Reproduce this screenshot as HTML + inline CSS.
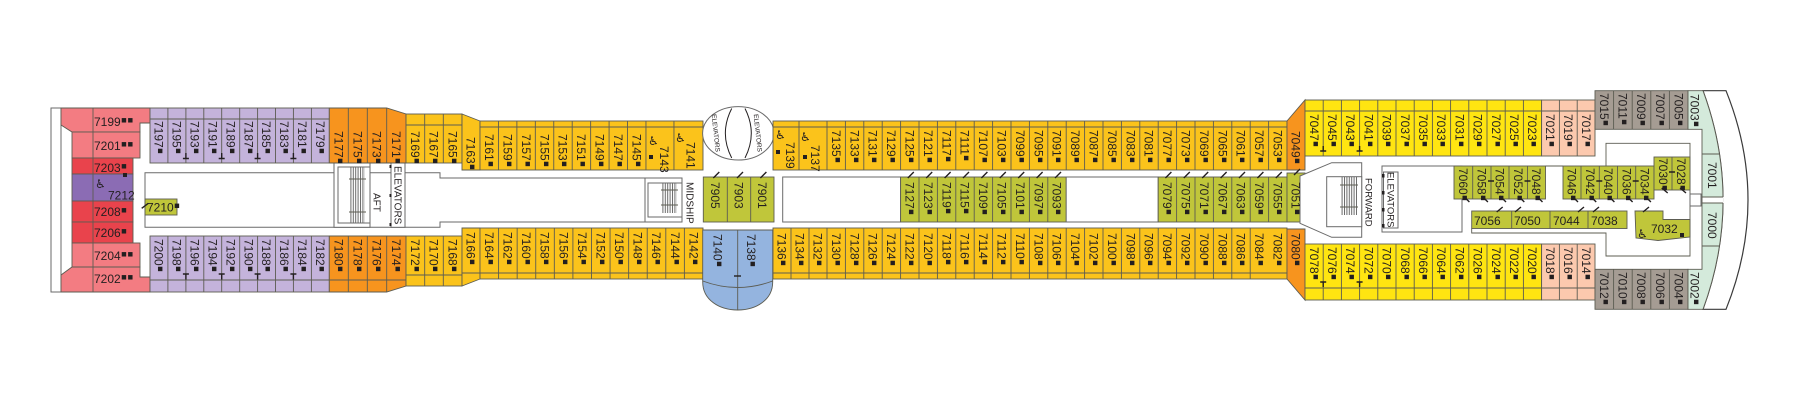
<!DOCTYPE html>
<html><head><meta charset="utf-8">
<style>
html,body{margin:0;padding:0;background:#fff;}
svg{display:block}
text{font-family:"Liberation Sans",sans-serif;font-size:12px;fill:#231f20}
.q{font-size:18px}
.s{font-size:10px}
.s2{font-size:9.5px}
.xs{font-size:6.5px}
.c{stroke:#5c5c52;stroke-width:0.9}
.l{fill:none;stroke:#5c5c52;stroke-width:0.9}
.k{fill:none;stroke:#231f20;stroke-width:1.4}
.o{fill:#fff;stroke:#6a6a6a;stroke-width:1}
.pk{fill:#F37C82}.rd{fill:#E9434C}.pu{fill:#8B6CB4}.lv{fill:#C4B3DB}.or{fill:#F7941E}.am{fill:#FBC31B}.ye{fill:#FFE511}.pe{fill:#FCC9AE}.gy{fill:#A59C93}.mi{fill:#D4EADB}.gr{fill:#C0C63A}.bl{fill:#94B4DF}
.w{font-family:"DejaVu Sans",sans-serif;font-size:12px}
</style></head><body>
<svg width="1800" height="400" viewBox="0 0 1800 400" xmlns="http://www.w3.org/2000/svg">
<defs><pattern id="st" width="2.4" height="10" patternUnits="userSpaceOnUse"><rect x="0" y="0" width="1" height="10" fill="#6a6a6a"/></pattern></defs>
<rect width="1800" height="400" fill="#fff"/>

<!-- AFT pink block -->
<rect class="o" x="51" y="108" width="10" height="184"/>
<polygon class="pk c" points="61,108 150,108 150,123 140,123 140,132 72,132 61,125"/>
<rect class="pk c" x="72" y="132" width="68" height="26"/>
<rect class="rd c" x="72" y="158" width="61" height="16"/>
<rect class="pu c" x="72" y="174" width="61" height="27"/>
<rect class="rd c" x="72" y="201" width="61" height="21"/>
<rect class="rd c" x="72" y="222" width="61" height="21"/>
<rect class="pk c" x="72" y="243" width="68" height="24"/>
<polygon class="pk c" points="72,267 140,267 140,277 150,277 150,292 61,292 61,275"/>
<path class="l" d="M93 108V292"/>
<text x="94" y="126">7199<tspan class="q">▪▪</tspan></text>
<text x="94" y="150">7201<tspan class="q">▪▪</tspan></text>
<text x="94" y="172">7203<tspan class="q">▪</tspan></text>
<text class="w" x="95" y="188">♿</text>
<text x="108" y="199.5">7212</text>
<rect x="123" y="173" width="4" height="4" fill="#231f20"/>
<text x="94" y="216">7208<tspan class="q">▪</tspan></text>
<text x="94" y="237">7206<tspan class="q">▪</tspan></text>
<text x="94" y="260">7204<tspan class="q">▪▪</tspan></text>
<text x="94" y="283">7202<tspan class="q">▪▪</tspan></text>

<!-- aft corridor -->
<path class="o" d="M145 172.7H440V178H647V222H440V227.3H145Z"/>
<rect class="o" x="334" y="163" width="36" height="64.3"/>
<rect class="o" x="338" y="167" width="32" height="56"/>
<rect x="350" y="167" width="15" height="56" fill="url(#st)"/>
<path class="l" d="M349 179H366M349 212H366"/>
<rect class="o" x="391" y="163" width="14" height="64.3"/>
<rect x="389.5" y="165" width="2" height="3" fill="#231f20"/><rect x="389.5" y="194" width="2" height="3" fill="#231f20"/><rect x="389.5" y="223" width="2" height="3" fill="#231f20"/>
<rect class="gr c" x="145" y="199" width="32" height="16"/>
<text x="147" y="211.5" font-size="11">7210<tspan class="q">▪</tspan></text>

<!-- midship stairs -->
<rect class="o" x="645" y="178" width="37" height="44"/>
<rect class="o" x="648" y="183" width="34" height="34"/>
<rect x="662" y="183" width="15" height="30" fill="url(#st)"/>
<path class="l" d="M661 190H678M661 205H678"/>

<!-- lavender rows -->
<rect class="lv c" x="150" y="108" width="179.3" height="55"/>
<path class="l" d="M167.9 108V163M185.9 108V163M203.8 108V163M221.7 108V163M239.7 108V163M257.6 108V163M275.5 108V163M293.4 108V163M311.4 108V163M150 119H329.3"/>
<rect class="lv c" x="150" y="236" width="179.3" height="56"/>
<path class="l" d="M167.9 236V292M185.9 236V292M203.8 236V292M221.7 236V292M239.7 236V292M257.6 236V292M275.5 236V292M293.4 236V292M311.4 236V292M150 280H329.3"/>

<!-- orange aft -->
<polygon class="or c" points="329.3,108 386.7,108 406,114 406,163 329.3,163"/>
<path class="l" d="M348.3 108V163M367.3 108V163M386.7 108V163"/>
<polygon class="or c" points="329.3,236 406,236 406,286 386.7,292 329.3,292"/>
<path class="l" d="M348.3 236V292M367.3 236V292M386.7 236V292M329.3 280H406"/>

<!-- section 2 amber -->
<rect class="am c" x="406" y="114" width="56" height="49"/>
<path class="l" d="M424.7 114V163M443.3 114V163M406 125H462"/>
<polygon class="am c" points="462,114 480,121 480,170 462,170"/>
<rect class="am c" x="406" y="236" width="56" height="50"/>
<path class="l" d="M424.7 236V286M443.3 236V286M406 275H462"/>
<polygon class="am c" points="462,228 480,228 480,279 462,286"/>

<!-- main aft amber -->
<rect class="am c" x="480" y="121" width="223" height="49"/>
<path class="l" d="M498.44 121v49m18.44-49v49m18.44-49v49m18.44-49v49m18.44-49v49m18.44-49v49m18.44-49v49m18.44-49v49m18.44-49v49m28-49v49M480 127H703"/>
<rect class="am c" x="480" y="228" width="223" height="51"/>
<path class="l" d="M498.58 228v51m18.58-51v51m18.58-51v51m18.58-51v51m18.58-51v51m18.58-51v51m18.58-51v51m18.58-51v51m18.58-51v51m18.58-51v51m18.58-51v51M462 273H703"/>

<!-- elevator ellipse -->
<ellipse class="o" cx="738.3" cy="133.3" rx="35.7" ry="26.7"/>
<path fill="none" stroke="#231f20" stroke-width="1" d="M731.7 108.5Q719 133.3 731.7 158M745 108.5Q757.6 133.3 745 158"/>
<text class="xs" x="0" y="2.3" text-anchor="middle" transform="translate(716 133) rotate(84)">ELEVATORS</text>
<text class="xs" x="0" y="2.3" text-anchor="middle" transform="translate(758 133) rotate(84)">ELEVATORS</text>

<!-- blue -->
<path class="bl c" d="M702.7 230H772.7V282C772.7 300 756 310 737.7 310C719.4 310 702.7 300 702.7 282Z"/>
<path class="l" d="M737.7 230V310M702.7 281Q737.7 294 772.7 281"/>
<path class="k" d="M734 276H741"/>

<!-- green midship -->
<rect class="gr c" x="703.3" y="177" width="70.7" height="45"/>
<path class="l" d="M727.3 177V222M750.7 177V222"/>

<!-- main fore amber -->
<rect class="am c" x="773" y="121" width="514" height="49"/>
<path class="l" d="M799 121v49m28-49v49m18.4-49v49m18.4-49v49m18.4-49v49m18.4-49v49m18.4-49v49m18.4-49v49m18.4-49v49m18.4-49v49m18.4-49v49m18.4-49v49m18.4-49v49m18.4-49v49m18.4-49v49m18.4-49v49m18.4-49v49m18.4-49v49m18.4-49v49m18.4-49v49m18.4-49v49m18.4-49v49m18.4-49v49m18.4-49v49m18.4-49v49m18.4-49v49M773 127H1287"/>
<rect class="am c" x="773" y="228" width="514" height="51"/>
<path class="l" d="M791 228v51m18-51v51m18-51v51m18.4-51v51m18.4-51v51m18.4-51v51m18.4-51v51m18.4-51v51m18.4-51v51m18.4-51v51m18.4-51v51m18.4-51v51m18.4-51v51m18.4-51v51m18.4-51v51m18.4-51v51m18.4-51v51m18.4-51v51m18.4-51v51m18.4-51v51m18.4-51v51m18.4-51v51m18.4-51v51m18.4-51v51m18.4-51v51m18.4-51v51M773 273H1287"/>

<!-- main corridor -->
<rect class="o" x="782.7" y="177" width="117.9" height="45"/>
<rect class="gr c" x="900.6" y="177" width="165.6" height="45"/>
<path class="l" d="M919 177v45m18.4-45v45m18.4-45v45m18.4-45v45m18.4-45v45m18.4-45v45m18.4-45v45m18.4-45v45"/>
<rect class="o" x="1066.2" y="177" width="92" height="45"/>
<rect class="gr c" x="1158.2" y="177" width="128.8" height="45"/>
<path class="l" d="M1176.6 177v45m18.4-45v45m18.4-45v45m18.4-45v45m18.4-45v45m18.4-45v45"/>
<rect class="gr c" x="1287" y="173" width="18" height="49"/>

<!-- orange fwd -->
<polygon class="or c" points="1287,121 1305,100 1305,170 1287,170"/>
<polygon class="or c" points="1287,229 1305,229 1305,300 1287,279"/>

<!-- forward stairs & elevators -->
<polygon class="o" points="1300,176 1331.7,162.7 1361.7,162.7 1361.7,237.3 1331.7,237.3 1300,223.3"/>
<rect class="o" x="1326.7" y="176.7" width="35" height="50"/>
<rect x="1341.5" y="177" width="15.5" height="38" fill="url(#st)"/>
<path class="l" d="M1340 185H1358M1340 207H1358"/>
<rect class="o" x="1382" y="166" width="80" height="66"/>
<rect class="o" x="1383.5" y="172" width="14.5" height="56"/>
<rect x="1382" y="174" width="2.5" height="3.5" fill="#231f20"/><rect x="1382" y="191" width="2.5" height="3.5" fill="#231f20"/><rect x="1382" y="208" width="2.5" height="3.5" fill="#231f20"/><rect x="1382" y="224" width="2.5" height="3.5" fill="#231f20"/>

<!-- forward top/bottom rows -->
<rect class="ye c" x="1305" y="100" width="236.6" height="56"/>
<path class="l" d="M1323.2 100v56m18.2-56v56m18.2-56v56m18.2-56v56m18.2-56v56m18.2-56v56m18.2-56v56m18.2-56v56m18.2-56v56m18.2-56v56m18.2-56v56m18.2-56v56M1305 111H1541.6"/>
<rect class="pe c" x="1541.6" y="100" width="53.4" height="56"/>
<path class="l" d="M1559.4 100v56m17.8-56v56M1541.6 111H1595"/>
<rect class="ye c" x="1305" y="244" width="236.6" height="56"/>
<path class="l" d="M1323.2 244v56m18.2-56v56m18.2-56v56m18.2-56v56m18.2-56v56m18.2-56v56m18.2-56v56m18.2-56v56m18.2-56v56m18.2-56v56m18.2-56v56m18.2-56v56M1305 288H1541.6"/>
<rect class="pe c" x="1541.6" y="244" width="53.4" height="56"/>
<path class="l" d="M1559.4 244v56m17.8-56v56M1541.6 288H1595"/>

<!-- forward inner -->
<path class="l" d="M1471.7 228.5V233H1606V256H1690V143.3H1606V166M1545.5 166H1563"/>
<rect class="gr c" x="1454" y="166" width="91.5" height="33"/>
<path class="l" d="M1472.7 166V199M1491 166V199M1509 166V199M1527.5 166V199"/>
<rect class="gr c" x="1563" y="166" width="91" height="33"/>
<path class="l" d="M1581 166V199M1599.3 166V199M1617.5 166V199M1635.7 166V199"/>
<rect class="gr c" x="1654" y="157" width="36" height="33"/>
<path class="l" d="M1672 157V190"/>
<rect class="gr c" x="1471.7" y="211" width="155.3" height="17.5"/>
<path class="l" d="M1511.7 211V228.5M1550 211V228.5M1588 211V228.5"/>
<polygon class="gr c" points="1635,211 1663,211 1663,219.5 1690,219.5 1690,237 1658,240.5 1636,238"/>
<text x="1474" y="225">7056</text>
<text x="1514" y="225">7050</text>
<text x="1553" y="225">7044</text>
<text x="1591" y="225">7038</text>
<text class="w" x="1637" y="238">♿</text>
<text x="1651" y="233">7032</text>
<rect x="1680" y="233" width="4" height="4" fill="#231f20"/>
<rect class="o" x="1690" y="194" width="11" height="12"/>

<!-- grey rows -->
<rect class="gy c" x="1595" y="90.7" width="93" height="38.6"/>
<path class="l" d="M1613.6 90.7V129.3M1632.2 90.7V129.3M1650.8 90.7V129.3M1669.4 90.7V129.3"/>
<rect class="gy c" x="1595" y="269.3" width="93" height="40"/>
<path class="l" d="M1613.6 269.3V309.3M1632.2 269.3V309.3M1650.8 269.3V309.3M1669.4 269.3V309.3"/>

<!-- bow -->
<path fill="#fff" stroke="#3a3a3a" stroke-width="1.2" d="M1703 90.7H1726Q1770 200 1726 309.3H1703Q1743 200 1703 90.7Z"/>
<path class="mi c" d="M1688 90.7H1703Q1743 200 1703 309.3H1688V269.3H1702V129.3H1688Z"/>
<rect x="1702.5" y="197" width="21" height="6" fill="#fff"/>
<path class="l" d="M1702 154H1719.5M1702 197H1723M1702 203H1723M1702 246H1719.4"/>

<!-- slashes and ticks -->
<path class="k" d="M713.3 178l6-6M737 178l6-6M760.4 178l6-6M907.8 178l6-6M926.2 178l6-6M944.6 178l6-6M963 178l6-6M981.4 178l6-6M999.8 178l6-6M1018.2 178l6-6M1036.6 178l6-6M1055 178l6-6M1165.4 178l6-6M1183.8 178l6-6M1202.2 178l6-6M1220.6 178l6-6M1239 178l6-6M1257.4 178l6-6M1275.8 178l6-6M1294 175l6-6"/>
<path class="k" d="M1463.4 196l6 6M1481.9 196l6 6M1500 196l6 6M1518.3 196l6 6M1536.5 196l6 6M1572 196l6 6M1590.2 196l6 6M1608.4 196l6 6M1626.6 196l6 6M1644.9 196l6 6M1661.7 188l6 5M1680 188l6 5M1496.7 212l6-5M1515 212l6-5M1578 212l6-5M1593 212l6-5M1643 212l6-5M141.7 208.3l6.6-5"/>
<path class="k" d="M185.9 153v5.5m-3 0h6M221.7 153v5.5m-3 0h6M257.6 153v5.5m-3 0h6M293.4 153v5.5m-3 0h6M182.9 274h6m-3 0v5.5M218.7 274h6m-3 0v5.5M254.6 274h6m-3 0v5.5M290.4 274h6m-3 0v5.5M1323.2 146v5m-3 0h6M1359.6 146v5m-3 0h6M1320.2 282h6m-3 0v5M1356.6 282h6m-3 0v5M1488 181h6M1524.5 181h6M1596.3 181h6M1632.7 181h6M1669 172h6"/>

<!-- wheelchair icons midship -->
<text class="w" x="648" y="145">♿</text>
<text class="w" x="675" y="142">♿</text>
<text class="w" x="775" y="139">♿</text>
<text class="w" x="800" y="141">♿</text>
<rect x="649" y="155" width="4" height="4" fill="#231f20"/>
<rect x="776" y="150" width="4" height="4" fill="#231f20"/>
<rect x="803" y="155" width="4" height="4" fill="#231f20"/>

<!-- rotated labels -->
<g transform="rotate(90)">
<text x="121" y="-154.7">7197<tspan class="q">▪</tspan></text><text x="121" y="-172.6">7195<tspan class="q">▪</tspan></text><text x="121" y="-190.5">7193<tspan class="q">▪</tspan></text><text x="121" y="-208.5">7191<tspan class="q">▪</tspan></text><text x="121" y="-226.4">7189<tspan class="q">▪</tspan></text><text x="121" y="-244.3">7187<tspan class="q">▪</tspan></text><text x="121" y="-262.2">7185<tspan class="q">▪</tspan></text><text x="121" y="-280.2">7183<tspan class="q">▪</tspan></text><text x="121" y="-298.1">7181<tspan class="q">▪</tspan></text><text x="121" y="-316">7179<tspan class="q">▪</tspan></text>
<text x="239" y="-154.7">7200<tspan class="q">▪</tspan></text><text x="239" y="-172.6">7198<tspan class="q">▪</tspan></text><text x="239" y="-190.5">7196<tspan class="q">▪</tspan></text><text x="239" y="-208.5">7194<tspan class="q">▪</tspan></text><text x="239" y="-226.4">7192<tspan class="q">▪</tspan></text><text x="239" y="-244.3">7190<tspan class="q">▪</tspan></text><text x="239" y="-262.2">7188<tspan class="q">▪</tspan></text><text x="239" y="-280.2">7186<tspan class="q">▪</tspan></text><text x="239" y="-298.1">7184<tspan class="q">▪</tspan></text><text x="239" y="-316">7182<tspan class="q">▪</tspan></text>
<text x="131" y="-334.5">7177<tspan class="q">▪</tspan></text><text x="131" y="-353.5">7175<tspan class="q">▪</tspan></text><text x="131" y="-372.7">7173<tspan class="q">▪</tspan></text><text x="131" y="-392">7171<tspan class="q">▪</tspan></text>
<text x="239" y="-334.5">7180<tspan class="q">▪</tspan></text><text x="239" y="-353.5">7178<tspan class="q">▪</tspan></text><text x="239" y="-372.7">7176<tspan class="q">▪</tspan></text><text x="239" y="-392">7174<tspan class="q">▪</tspan></text>
<text x="131" y="-411">7169<tspan class="q">▪</tspan></text><text x="131" y="-429.7">7167<tspan class="q">▪</tspan></text><text x="131" y="-448.4">7165<tspan class="q">▪</tspan></text><text x="137" y="-466.7">7163<tspan class="q">▪</tspan></text>
<text x="239" y="-411">7172<tspan class="q">▪</tspan></text><text x="239" y="-429.7">7170<tspan class="q">▪</tspan></text><text x="239" y="-448.4">7168<tspan class="q">▪</tspan></text><text x="232" y="-466.7">7166<tspan class="q">▪</tspan></text>
<text x="134" y="-484.9">7161<tspan class="q">▪</tspan></text><text x="134" y="-503.4">7159<tspan class="q">▪</tspan></text><text x="134" y="-521.8">7157<tspan class="q">▪</tspan></text><text x="134" y="-540.3">7155<tspan class="q">▪</tspan></text><text x="134" y="-558.7">7153<tspan class="q">▪</tspan></text><text x="134" y="-577.1">7151<tspan class="q">▪</tspan></text><text x="134" y="-595.6">7149<tspan class="q">▪</tspan></text><text x="134" y="-614">7147<tspan class="q">▪</tspan></text><text x="134" y="-632.5">7145<tspan class="q">▪</tspan></text>
<text x="146" y="-660">7143</text><text x="142" y="-686.7">7141</text><text x="142" y="-786">7139</text><text x="145" y="-811">7137</text>
<text x="232" y="-485">7164<tspan class="q">▪</tspan></text><text x="232" y="-503.6">7162<tspan class="q">▪</tspan></text><text x="232" y="-522.2">7160<tspan class="q">▪</tspan></text><text x="232" y="-540.7">7158<tspan class="q">▪</tspan></text><text x="232" y="-559.3">7156<tspan class="q">▪</tspan></text><text x="232" y="-577.9">7154<tspan class="q">▪</tspan></text><text x="232" y="-596.5">7152<tspan class="q">▪</tspan></text><text x="232" y="-615.1">7150<tspan class="q">▪</tspan></text><text x="232" y="-633.7">7148<tspan class="q">▪</tspan></text><text x="232" y="-652.2">7146<tspan class="q">▪</tspan></text><text x="232" y="-670.8">7144<tspan class="q">▪</tspan></text><text x="232" y="-689.4">7142<tspan class="q">▪</tspan></text>
<text x="234" y="-713.7">7140<tspan class="q">▪</tspan></text><text x="234" y="-747.2">7138<tspan class="q">▪</tspan></text>
<text x="182" y="-711">7905</text><text x="182" y="-734.7">7903</text><text x="182" y="-758.1">7901</text>
<text x="130" y="-831.9">7135<tspan class="q">▪</tspan></text><text x="130" y="-850.3">7133<tspan class="q">▪</tspan></text><text x="130" y="-868.7">7131<tspan class="q">▪</tspan></text><text x="130" y="-887.1">7129<tspan class="q">▪</tspan></text><text x="130" y="-905.5">7125<tspan class="q">▪</tspan></text><text x="130" y="-923.9">7121<tspan class="q">▪</tspan></text><text x="130" y="-942.3">7117<tspan class="q">▪</tspan></text><text x="130" y="-960.7">7111<tspan class="q">▪</tspan></text><text x="130" y="-979.1">7107<tspan class="q">▪</tspan></text><text x="130" y="-997.5">7103<tspan class="q">▪</tspan></text><text x="130" y="-1015.9">7099<tspan class="q">▪</tspan></text><text x="130" y="-1034.3">7095<tspan class="q">▪</tspan></text><text x="130" y="-1052.7">7091<tspan class="q">▪</tspan></text><text x="130" y="-1071.1">7089<tspan class="q">▪</tspan></text><text x="130" y="-1089.5">7087<tspan class="q">▪</tspan></text><text x="130" y="-1107.9">7085<tspan class="q">▪</tspan></text><text x="130" y="-1126.3">7083<tspan class="q">▪</tspan></text><text x="130" y="-1144.7">7081<tspan class="q">▪</tspan></text><text x="130" y="-1163.1">7077<tspan class="q">▪</tspan></text><text x="130" y="-1181.5">7073<tspan class="q">▪</tspan></text><text x="130" y="-1199.9">7069<tspan class="q">▪</tspan></text><text x="130" y="-1218.3">7065<tspan class="q">▪</tspan></text><text x="130" y="-1236.7">7061<tspan class="q">▪</tspan></text><text x="130" y="-1255.1">7057<tspan class="q">▪</tspan></text><text x="130" y="-1273.5">7053<tspan class="q">▪</tspan></text>
<text x="233" y="-777.7">7136<tspan class="q">▪</tspan></text><text x="233" y="-795.7">7134<tspan class="q">▪</tspan></text><text x="233" y="-813.7">7132<tspan class="q">▪</tspan></text>
<text x="233" y="-831.9">7130<tspan class="q">▪</tspan></text><text x="233" y="-850.3">7128<tspan class="q">▪</tspan></text><text x="233" y="-868.7">7126<tspan class="q">▪</tspan></text><text x="233" y="-887.1">7124<tspan class="q">▪</tspan></text><text x="233" y="-905.5">7122<tspan class="q">▪</tspan></text><text x="233" y="-923.9">7120<tspan class="q">▪</tspan></text><text x="233" y="-942.3">7118<tspan class="q">▪</tspan></text><text x="233" y="-960.7">7116<tspan class="q">▪</tspan></text><text x="233" y="-979.1">7114<tspan class="q">▪</tspan></text><text x="233" y="-997.5">7112<tspan class="q">▪</tspan></text><text x="233" y="-1015.9">7110<tspan class="q">▪</tspan></text><text x="233" y="-1034.3">7108<tspan class="q">▪</tspan></text><text x="233" y="-1052.7">7106<tspan class="q">▪</tspan></text><text x="233" y="-1071.1">7104<tspan class="q">▪</tspan></text><text x="233" y="-1089.5">7102<tspan class="q">▪</tspan></text><text x="233" y="-1107.9">7100<tspan class="q">▪</tspan></text><text x="233" y="-1126.3">7098<tspan class="q">▪</tspan></text><text x="233" y="-1144.7">7096<tspan class="q">▪</tspan></text><text x="233" y="-1163.1">7094<tspan class="q">▪</tspan></text><text x="233" y="-1181.5">7092<tspan class="q">▪</tspan></text><text x="233" y="-1199.9">7090<tspan class="q">▪</tspan></text><text x="233" y="-1218.3">7088<tspan class="q">▪</tspan></text><text x="233" y="-1236.7">7086<tspan class="q">▪</tspan></text><text x="233" y="-1255.1">7084<tspan class="q">▪</tspan></text><text x="233" y="-1273.5">7082<tspan class="q">▪</tspan></text>
<text x="182" y="-905.5">7127<tspan class="q">▪</tspan></text><text x="182" y="-923.9">7123<tspan class="q">▪</tspan></text><text x="182" y="-942.3">7119<tspan class="q">▪</tspan></text><text x="182" y="-960.7">7115<tspan class="q">▪</tspan></text><text x="182" y="-979.1">7109<tspan class="q">▪</tspan></text><text x="182" y="-997.5">7105<tspan class="q">▪</tspan></text><text x="182" y="-1015.9">7101<tspan class="q">▪</tspan></text><text x="182" y="-1034.3">7097<tspan class="q">▪</tspan></text><text x="182" y="-1052.7">7093<tspan class="q">▪</tspan></text>
<text x="182" y="-1163.1">7079<tspan class="q">▪</tspan></text><text x="182" y="-1181.5">7075<tspan class="q">▪</tspan></text><text x="182" y="-1199.9">7071<tspan class="q">▪</tspan></text><text x="182" y="-1218.3">7067<tspan class="q">▪</tspan></text><text x="182" y="-1236.7">7063<tspan class="q">▪</tspan></text><text x="182" y="-1255.1">7059<tspan class="q">▪</tspan></text><text x="182" y="-1273.5">7055<tspan class="q">▪</tspan></text><text x="182" y="-1291.7">7051<tspan class="q">▪</tspan></text>
<text x="131" y="-1291.7">7049<tspan class="q">▪</tspan></text><text x="233" y="-1291.7">7080<tspan class="q">▪</tspan></text>
<text x="114" y="-1309.8">7047<tspan class="q">▪</tspan></text><text x="114" y="-1328">7045<tspan class="q">▪</tspan></text><text x="114" y="-1346.2">7043<tspan class="q">▪</tspan></text><text x="114" y="-1364.4">7041<tspan class="q">▪</tspan></text><text x="114" y="-1382.6">7039<tspan class="q">▪</tspan></text><text x="114" y="-1400.8">7037<tspan class="q">▪</tspan></text><text x="114" y="-1419">7035<tspan class="q">▪</tspan></text><text x="114" y="-1437.2">7033<tspan class="q">▪</tspan></text><text x="114" y="-1455.4">7031<tspan class="q">▪</tspan></text><text x="114" y="-1473.6">7029<tspan class="q">▪</tspan></text><text x="114" y="-1491.8">7027<tspan class="q">▪</tspan></text><text x="114" y="-1510">7025<tspan class="q">▪</tspan></text><text x="114" y="-1528.2">7023<tspan class="q">▪</tspan></text><text x="114" y="-1546.2">7021<tspan class="q">▪</tspan></text><text x="114" y="-1564">7019<tspan class="q">▪</tspan></text><text x="114" y="-1581.8">7017<tspan class="q">▪</tspan></text>
<text x="247" y="-1309.8">7078<tspan class="q">▪</tspan></text><text x="247" y="-1328">7076<tspan class="q">▪</tspan></text><text x="247" y="-1346.2">7074<tspan class="q">▪</tspan></text><text x="247" y="-1364.4">7072<tspan class="q">▪</tspan></text><text x="247" y="-1382.6">7070<tspan class="q">▪</tspan></text><text x="247" y="-1400.8">7068<tspan class="q">▪</tspan></text><text x="247" y="-1419">7066<tspan class="q">▪</tspan></text><text x="247" y="-1437.2">7064<tspan class="q">▪</tspan></text><text x="247" y="-1455.4">7062<tspan class="q">▪</tspan></text><text x="247" y="-1473.6">7026<tspan class="q">▪</tspan></text><text x="247" y="-1491.8">7024<tspan class="q">▪</tspan></text><text x="247" y="-1510">7022<tspan class="q">▪</tspan></text><text x="247" y="-1528.2">7020<tspan class="q">▪</tspan></text><text x="247" y="-1546.2">7018<tspan class="q">▪</tspan></text><text x="247" y="-1564">7016<tspan class="q">▪</tspan></text><text x="247" y="-1581.8">7014<tspan class="q">▪</tspan></text>
<text x="93" y="-1600">7015<tspan class="q">▪</tspan></text><text x="93" y="-1618.6">7011<tspan class="q">▪</tspan></text><text x="93" y="-1637.2">7009<tspan class="q">▪</tspan></text><text x="93" y="-1655.8">7007<tspan class="q">▪</tspan></text><text x="93" y="-1674.4">7005<tspan class="q">▪</tspan></text>
<text x="272" y="-1600">7012<tspan class="q">▪</tspan></text><text x="272" y="-1618.6">7010<tspan class="q">▪</tspan></text><text x="272" y="-1637.2">7008<tspan class="q">▪</tspan></text><text x="272" y="-1655.8">7006<tspan class="q">▪</tspan></text><text x="272" y="-1674.4">7004<tspan class="q">▪</tspan></text>
<text x="94" y="-1690.7">7003<tspan class="q">▪</tspan></text><text x="272" y="-1690.7">7002<tspan class="q">▪</tspan></text><text x="162" y="-1708.2">7001</text><text x="212" y="-1708.2">7000</text>
<text x="168" y="-1459.1">7060<tspan class="q">▪</tspan></text><text x="168" y="-1477.6">7058<tspan class="q">▪</tspan></text><text x="168" y="-1495.7">7054<tspan class="q">▪</tspan></text><text x="168" y="-1514">7052<tspan class="q">▪</tspan></text><text x="168" y="-1532.2">7048<tspan class="q">▪</tspan></text><text x="168" y="-1567.7">7046<tspan class="q">▪</tspan></text><text x="168" y="-1585.9">7042<tspan class="q">▪</tspan></text><text x="168" y="-1604.1">7040<tspan class="q">▪</tspan></text><text x="168" y="-1622.3">7036<tspan class="q">▪</tspan></text><text x="168" y="-1640.6">7034<tspan class="q">▪</tspan></text><text x="158" y="-1658.9">7030<tspan class="q">▪</tspan></text><text x="158" y="-1676.9">7028<tspan class="q">▪</tspan></text>
<text class="s" x="193" y="-373.4">AFT</text>
<text class="s" x="166" y="-394.4">ELEVATORS</text>
<text class="s" x="182" y="-686.4">MIDSHIP</text>
<text class="s2" x="178" y="-1365.6">FORWARD</text>
<text class="s2" x="172" y="-1387.3">ELEVATORS</text>
</g>
</svg>
</body></html>
